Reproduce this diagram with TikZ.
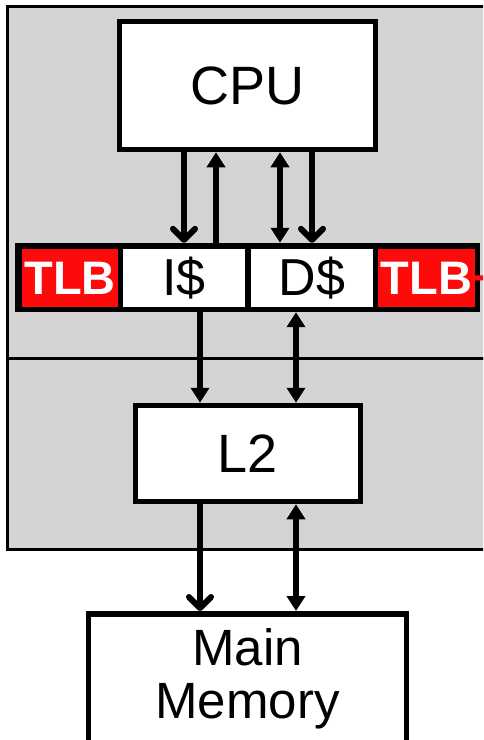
\documentclass[tikz,border=0pt]{standalone}
\usepackage{fontspec}
\setmainfont{Liberation Sans}
\usetikzlibrary{arrows.meta}
\definecolor{panelgray}{RGB}{212,212,212}
\definecolor{tlbred}{RGB}{255,10,10}

\begin{document}
\begin{tikzpicture}[x=1pt,y=-1pt,
  box/.style={draw=black, fill=white, line width=5.5pt, inner sep=0pt,
    font=\fontsize{54}{48}\selectfont},
  cell/.style={inner sep=0pt, minimum height=58pt,
    font=\fontsize{52}{52}\selectfont},
  tlbcell/.style={cell, fill=tlbred, text=white,
    font=\fontsize{47}{47}\selectfont\bfseries},
  wire/.style={line width=6pt},
  openhead/.style={wire, -{Straight Barb[length=11pt,width=22pt,round]}},
  solidhead/.style={wire, -{Triangle[length=15pt,width=18pt]}},
  twohead/.style={wire, {Triangle[length=15pt,width=18pt]}-{Triangle[length=15pt,width=18pt]}},
  panel/.style={fill=panelgray, draw=black, line width=3pt}]
\useasboundingbox (0,0) rectangle (483,740);
\clip (0,0) rectangle (483,740);

% chip outline: core tier and L2 tier
\draw[panel] (7.5,6) rectangle (520,358);
\draw[panel] (7.5,358) rectangle (520,549.5);

% processor
\node[box, minimum width=256pt, minimum height=128pt] (cpu) at (247.5,85.5) {CPU};

% first-level row: TLBs around split caches
\node[fill=black, inner sep=0pt, minimum width=465pt, minimum height=69pt] (frame) at (247.5,277.5) {};
\node[tlbcell, minimum width=96pt] (tlbI) at (70,278) {TLB};
\node[cell, fill=white, minimum width=122pt] (icache) at (184,278) {I\$};
\node[cell, fill=white, minimum width=122pt] (dcache) at (312,278) {D\$};
\node[tlbcell, minimum width=97pt] (tlbD) at (426.5,278) {TLB};
\coordinate (tlbout) at (500,277.5);
\draw[tlbred, line width=5pt] (tlbD.east) -- (tlbout);

% second level and memory
\node[box, minimum width=225pt, minimum height=96pt] (l2) at (248,453.5) {L2};
\node[box, minimum width=318pt, minimum height=130.5pt, align=center,
  font=\fontsize{51}{53}\selectfont] (mem) at (247.5,679) {Main\\Memory};

% bus columns
\path (icache.center) ++(32,0) coordinate (iret);
\path (dcache.center) ++(-32,0) coordinate (dbus);
\path (l2.center) ++(-48,0) coordinate (lfill);
\path (l2.center) ++(48,0) coordinate (lbus);

% CPU <-> L1
\draw[openhead] (cpu.south -| icache.center) -- (frame.north -| icache.center);
\draw[solidhead] (frame.north -| iret) -- (cpu.south -| iret);
\draw[twohead] (cpu.south -| dbus) -- (frame.north -| dbus);
\draw[openhead] (cpu.south -| dcache.center) -- (frame.north -| dcache.center);

% L1 <-> L2
\draw[solidhead] (frame.south -| lfill) -- (l2.north -| lfill);
\draw[twohead] (frame.south -| lbus) -- (l2.north -| lbus);

% L2 <-> memory
\draw[openhead] (l2.south -| lfill) -- (mem.north -| lfill);
\draw[twohead] (l2.south -| lbus) -- (mem.north -| lbus);
\end{tikzpicture}
\end{document}
